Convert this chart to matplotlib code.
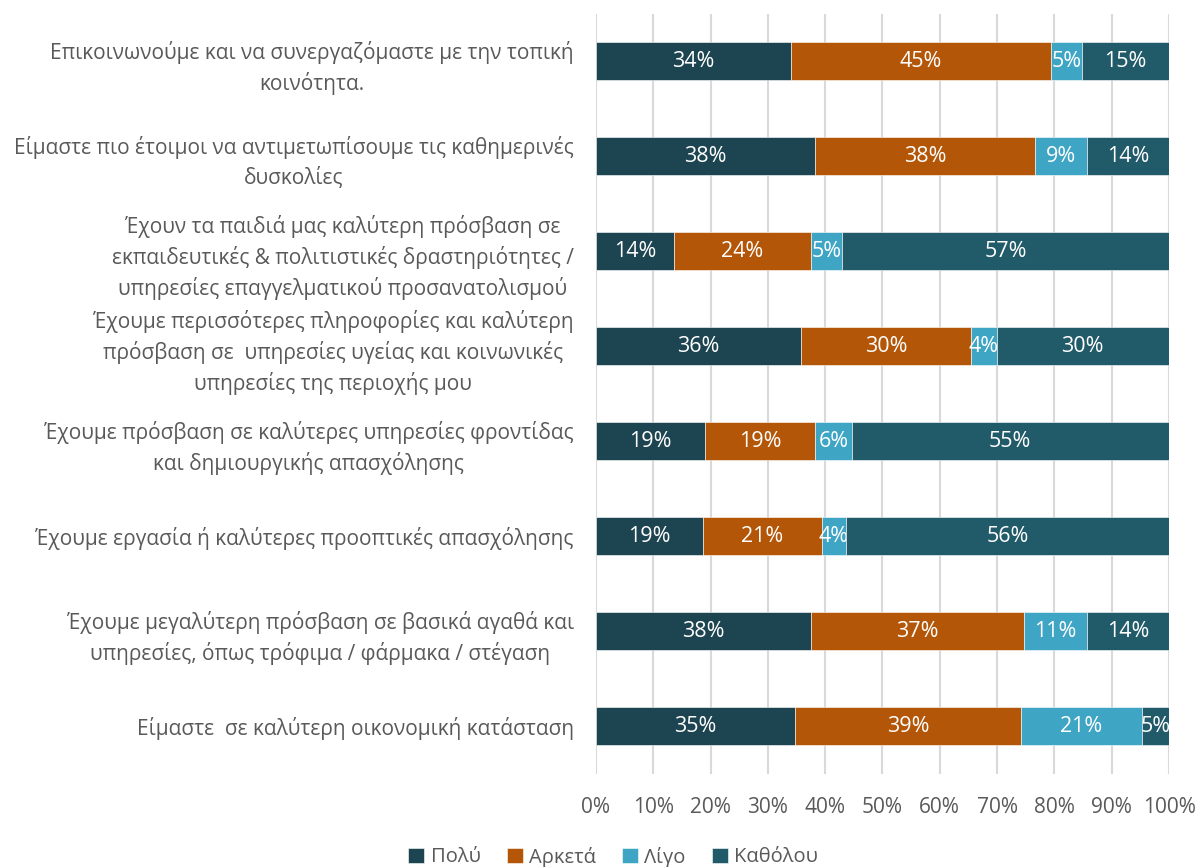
import matplotlib.pyplot as plt
import numpy as np

plt.rcParams['font.family'] = ['Open Sans', 'DejaVu Sans']

# Survey statements (top to bottom)
statements = [
    'Επικοινωνούμε και να συνεργαζόμαστε με την τοπική\nκοινότητα.',
    'Είμαστε πιο έτοιμοι να αντιμετωπίσουμε τις καθημερινές\nδυσκολίες',
    'Έχουν τα παιδιά μας καλύτερη πρόσβαση σε\nεκπαιδευτικές & πολιτιστικές δραστηριότητες /\nυπηρεσίες επαγγελματικού προσανατολισμού',
    'Έχουμε περισσότερες πληροφορίες και καλύτερη\nπρόσβαση σε  υπηρεσίες υγείας και κοινωνικές\nυπηρεσίες της περιοχής μου',
    'Έχουμε πρόσβαση σε καλύτερες υπηρεσίες φροντίδας\nκαι δημιουργικής απασχόλησης',
    'Έχουμε εργασία ή καλύτερες προοπτικές απασχόλησης',
    'Έχουμε μεγαλύτερη πρόσβαση σε βασικά αγαθά και\nυπηρεσίες, όπως τρόφιμα / φάρμακα / στέγαση',
    'Είμαστε  σε καλύτερη οικονομική κατάσταση',
]

series_names = ['Πολύ', 'Αρκετά', 'Λίγο', 'Καθόλου']

# Share of answers (%) per statement
poly = [34.1, 38.3, 13.6, 35.7, 19.1, 18.6, 37.6, 34.8]
arketa = [45.3, 38.4, 24.0, 29.8, 19.2, 20.8, 37.1, 39.3]
ligo = [5.4, 9.0, 5.4, 4.4, 6.3, 4.3, 11.0, 21.2]
katholou = [15.2, 14.3, 57.0, 30.1, 55.4, 56.3, 14.3, 4.7]

colors = ['#1d4451', '#b45607', '#3ea5c4', '#215b69']
text_grey = '#595959'

fig = plt.figure(figsize=(11.99, 8.67), dpi=100)
ax = fig.add_axes([0.497, 0.1078, 0.478, 0.8766])

y = np.arange(len(statements))
left = np.zeros(len(statements))
for name, vals, col in zip(series_names, [poly, arketa, ligo, katholou], colors):
    vals = np.array(vals)
    bars = ax.barh(y, vals, left=left, height=0.4, color=col, label=name,
                   edgecolor='white', linewidth=0.4, zorder=3)
    ax.bar_label(bars, labels=[f'{v:.0f}%' for v in vals], label_type='center',
                 color='white', fontsize=15.5)
    left += vals

ax.set_xlim(0, 100)
ax.set_ylim(len(statements) - 0.5, -0.5)
ax.set_xticks(np.arange(0, 101, 10))
ax.set_xticklabels([f'{t}%' for t in range(0, 101, 10)], fontsize=15, color=text_grey)
ax.set_yticks(y)
ax.set_yticklabels(statements, fontsize=15, color=text_grey,
                   multialignment='center', linespacing=1.45)
ax.tick_params(axis='y', length=0, pad=16)
ax.tick_params(axis='x', length=0, pad=17)
ax.grid(axis='x', color='#d9d9d9', linewidth=1.5, zorder=0)
for s in ax.spines.values():
    s.set_visible(False)

fig.legend(loc='center', bbox_to_anchor=(613 / 1199, 1 - 857 / 867), ncol=4,
           frameon=False, fontsize=14.5, handlelength=0.8, handleheight=0.8,
           handletextpad=0.3, columnspacing=1.3, labelcolor=text_grey)

fig.savefig('out.png', dpi=100)
